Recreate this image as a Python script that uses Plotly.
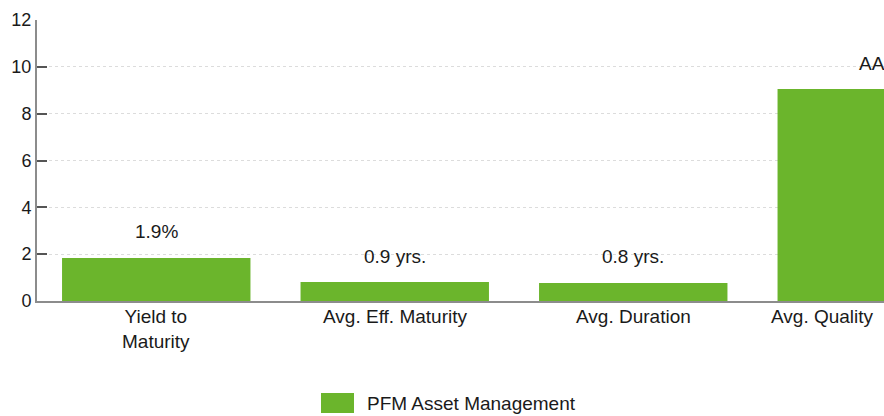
import plotly.graph_objects as go

categories = ["Yield to<br>Maturity", "Avg. Eff. Maturity", "Avg. Duration", "Avg. Quality"]
values = [1.84, 0.81, 0.77, 9.05]
value_labels = ["1.9%", "0.9 yrs.", "0.8 yrs.", "AA"]
series_name = "PFM Asset Management"
y_ticks = [0, 2, 4, 6, 8, 10, 12]

FONT = "Liberation Sans, Arial, sans-serif"
GREEN = "#6bb52c"
TXT = "#1a1a1a"

fig = go.Figure()
fig.add_trace(go.Bar(
    x=categories, y=values, name=series_name,
    marker=dict(color=GREEN, line=dict(width=0)),
    width=0.79, showlegend=False,
))

ann = []
for c, v, t in zip(categories, values, value_labels):
    ann.append(dict(x=c, y=v, xref="x", yref="y", text=t, showarrow=False,
                    yanchor="middle", yshift=26,
                    font=dict(family=FONT, size=19, color=TXT)))
for i, c in enumerate(categories):
    last = i == len(categories) - 1
    ann.append(dict(x=c, y=0, xref="x", yref="y", text=c, showarrow=False,
                    yanchor="top", yshift=-3,
                    xanchor="right" if last else "center",
                    xshift=4 if last else 0,
                    font=dict(family=FONT, size=19, color=TXT)))
# manual legend
W, H = 884, 416
L, T, PW, PH = 37, 20, 847, 281
def px(x): return (x - L) / PW
def py(y): return (T + PH - y) / PH
ann.append(dict(x=px(365), y=py(403), xref="paper", yref="paper", text=series_name,
                showarrow=False, xanchor="left", yanchor="middle",
                font=dict(family=FONT, size=19, color=TXT)))

fig.update_layout(
    width=W, height=H,
    margin=dict(l=L, r=W - L - PW, t=T, b=H - T - PH, pad=0),
    paper_bgcolor="white", plot_bgcolor="white",
    font=dict(family=FONT, size=18, color=TXT),
    xaxis=dict(type="category", range=[-0.5, -0.5 + 4 * 847 / 954],
               showticklabels=False, ticks="", showgrid=False,
               showline=True, linecolor="#8c8c8c", linewidth=2, zeroline=False),
    yaxis=dict(range=[0, 12], tickvals=y_ticks, ticks="inside", ticklen=10,
               tickcolor="#555555", tickwidth=1.5,
               showline=True, linecolor="#8c8c8c", linewidth=2,
               showgrid=True, gridcolor="#dcdcdc", griddash="dot", gridwidth=1,
               zeroline=False, tickfont=dict(family=FONT, size=18, color=TXT)),
    annotations=ann,
    shapes=[dict(type="rect", xref="paper", yref="paper",
                 x0=px(321), x1=px(354), y0=py(413), y1=py(393),
                 fillcolor=GREEN, line=dict(width=0))],
    bargap=0.2,
)
fig.write_html("out.html", config={"displayModeBar": False},
               post_script="document.body.style.margin='0';document.body.style.overflow='hidden';")
